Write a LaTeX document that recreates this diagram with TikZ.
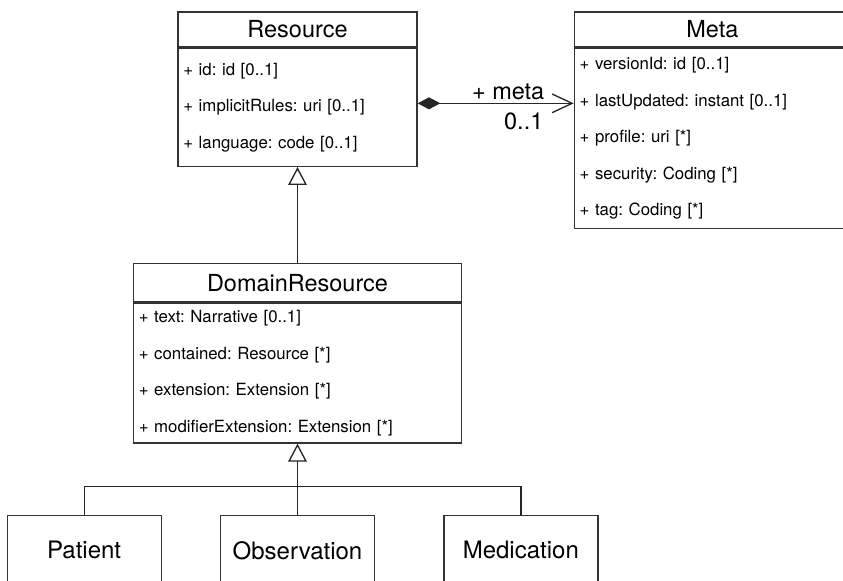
\documentclass[tikz,border=0pt]{standalone}
\usepackage{fontspec}
\setmainfont{TeX Gyre Heros}
\usetikzlibrary{arrows.meta,positioning}
\frenchspacing

\begin{document}
\begin{tikzpicture}[
      x=0.75pt, y=-0.75pt,
      cls/.style={draw=black!80, line width=1pt, fill=white,
                  minimum height=26.25pt, inner sep=0pt,
                  font=\fontsize{17.6}{20}\selectfont},
      attrs/.style={draw=black!80, line width=1pt, fill=white,
                  inner xsep=4pt, inner ysep=0pt, text width=#1,
                  align=left, font=\fontsize{12.6}{27.4}\selectfont},
      leaf/.style={draw=black!80, line width=1pt, fill=white,
                  minimum width=115.5pt, minimum height=52.5pt,
                  font=\fontsize{18}{20}\selectfont},
      lbl/.style={font=\fontsize{17.6}{20}\selectfont, inner sep=2pt},
      link/.style={draw=black!85, line width=1pt},
      comp/.style={link, {Diamond[length=17pt,width=9pt]}-{Straight Barb[length=15pt,width=14pt]}},
      gen/.style={link, -{Triangle[open,fill=white,length=13.5pt,width=14pt]}}
  ]
    \useasboundingbox (0,0) rectangle (843,581);

    % classes
    \node[cls, minimum width=179.25pt] (restitle) at (297.5,29.5) {Resource};
    \node[attrs=171.25pt, minimum height=88.5pt, below=0pt of restitle] (resattr)
      {+ id: id [0..1]\\ + implicitRules: uri [0..1]\\ + language: code [0..1]};

    \node[cls, minimum width=207pt, right=117pt of restitle] (metatitle) {Meta};
    \node[attrs=199pt, minimum height=135pt, below=0pt of metatitle] (metaattr)
      {+ versionId: id [0..1]\\ + lastUpdated: instant [0..1]\\ + profile: uri [*]\\
       + security: Coding [*]\\ + tag: Coding [*]};

    \node[cls, minimum width=246pt, minimum height=28.5pt, below=72pt of resattr] (domtitle) {DomainResource};
    \node[attrs=238pt, minimum height=105pt, below=0pt of domtitle] (domattr)
      {+ text: Narrative [0..1]\\ + contained: Resource [*]\\ + extension: Extension [*]\\
       + modifierExtension: Extension [*]};

    \node[leaf, below=53.25pt of domattr] (obs) {Observation};
    \node[leaf, left=43.5pt of obs]  (pat) {Patient};
    \node[leaf, right=51pt of obs]   (med) {Medication};

    % relations
    \draw[comp] ([yshift=3pt]resattr.east) -- ([yshift=3pt]resattr.east -| metaattr.west)
      node[lbl, pos=0.58, above] {+ meta}
      node[lbl, pos=0.68, below=5pt] {0..1};
    \draw[gen] (domtitle.north) -- (resattr.south);
    \draw[link] (pat.north) |- ([yshift=21pt]obs.north) -| (med.north);
    \draw[gen] (obs.north) -- (domattr.south);
  \end{tikzpicture}
\end{document}
